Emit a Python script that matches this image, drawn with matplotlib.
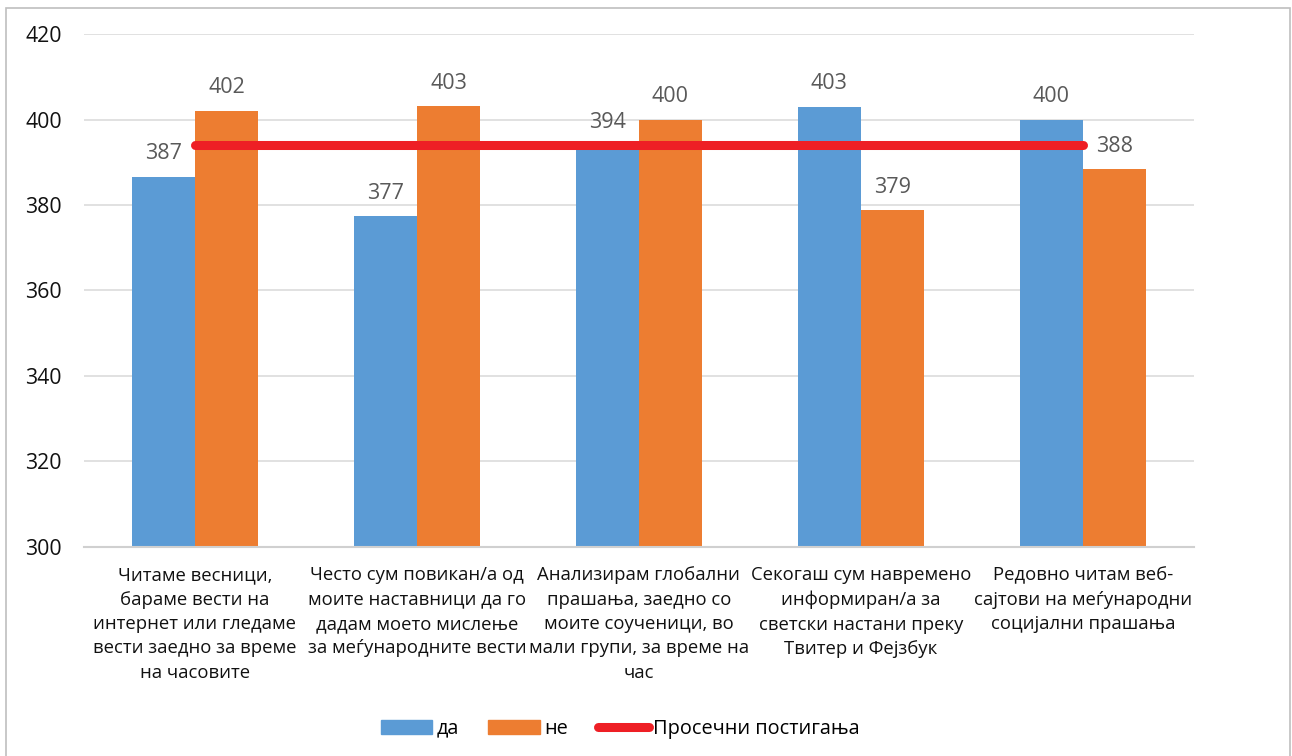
import matplotlib.pyplot as plt
import numpy as np
from matplotlib.patches import Rectangle
from matplotlib.lines import Line2D

plt.rcParams['font.family'] = ['Open Sans', 'DejaVu Sans']

# data
categories = [
    "Читаме весници,\nбараме вести на\nинтернет или гледаме\nвести заедно за време\nна часовите",
    "Често сум повикан/а од\nмоите наставници да го\nдадам моето мислење\nза меѓународните вести",
    "Анализирам глобални\nпрашања, заедно со\nмоите соученици, во\nмали групи, за време на\nчас",
    "Секогаш сум навремено\nинформиран/а за\nсветски настани преку\nТвитер и Фејзбук",
    "Редовно читам веб-\nсајтови на меѓународни\nсоцијални прашања",
]
da = [386.6, 377.4, 394.0, 403.0, 400.0]
ne = [402.0, 403.1, 400.0, 378.8, 388.4]
average = [394, 394, 394, 394, 394]
yticks = [300, 320, 340, 360, 380, 400, 420]

blue = "#5B9BD5"
orange = "#ED7D31"
red = "#EE1F25"

fig = plt.figure(figsize=(12.92, 7.56), dpi=100)
ax = fig.add_axes([0.065, 0.2765, 0.859, 0.6785])

x = np.arange(len(categories))
w = 0.284
ax.bar(x - w / 2, [v - 300 for v in da], w, bottom=300, color=blue, label="да", zorder=2)
ax.bar(x + w / 2, [v - 300 for v in ne], w, bottom=300, color=orange, label="не", zorder=2)
ax.plot(x, average, color=red, lw=6.5, solid_capstyle="round", zorder=3,
        label="Просечни постигања")

# data labels
for xs, vals in ((x - w / 2, da), (x + w / 2, ne)):
    for xi, v in zip(xs, vals):
        ax.annotate(f"{v:.0f}", (xi, v), xytext=(0, 9), textcoords="offset points",
                    ha="center", va="bottom", fontsize=15.5, color="#595959", zorder=4)

ax.set_xlim(-0.5, 4.5)
ax.set_ylim(300, 420)
ax.set_yticks(yticks)
ax.set_xticks(x)
ax.set_xticklabels(categories, fontsize=13.3, linespacing=1.45, color="#111111")
ax.tick_params(axis="y", length=0, pad=16, labelsize=15.3, labelcolor="#111111")
ax.tick_params(axis="x", length=0, pad=14)
ax.grid(axis="y", color="#D9D9D9", lw=1.1, zorder=0)
ax.set_axisbelow(True)
for s in ("top", "right", "left"):
    ax.spines[s].set_visible(False)
ax.spines["bottom"].set_color("#D0D0D0")
ax.spines["bottom"].set_linewidth(1.5)

handles = [
    Rectangle((0, 0), 1, 1, color=blue),
    Rectangle((0, 0), 1, 1, color=orange),
    Line2D([0], [0], color=red, lw=6.5, solid_capstyle="round"),
]
fig.legend(handles, ["да", "не", "Просечни постигања"], loc="center",
           bbox_to_anchor=(0.48, 0.036), ncol=3, frameon=False, fontsize=14.3,
           handlelength=2.6, handleheight=0.7, handletextpad=0.2, columnspacing=1.5)

# outer chart border
fig.patches.append(Rectangle((6 / 1292, -0.01), 1284 / 1292, 1 - 8 / 756 + 0.01,
                             transform=fig.transFigure, fill=False,
                             edgecolor="#BFBFBF", lw=1.2))

fig.savefig("out.png", dpi=100)
